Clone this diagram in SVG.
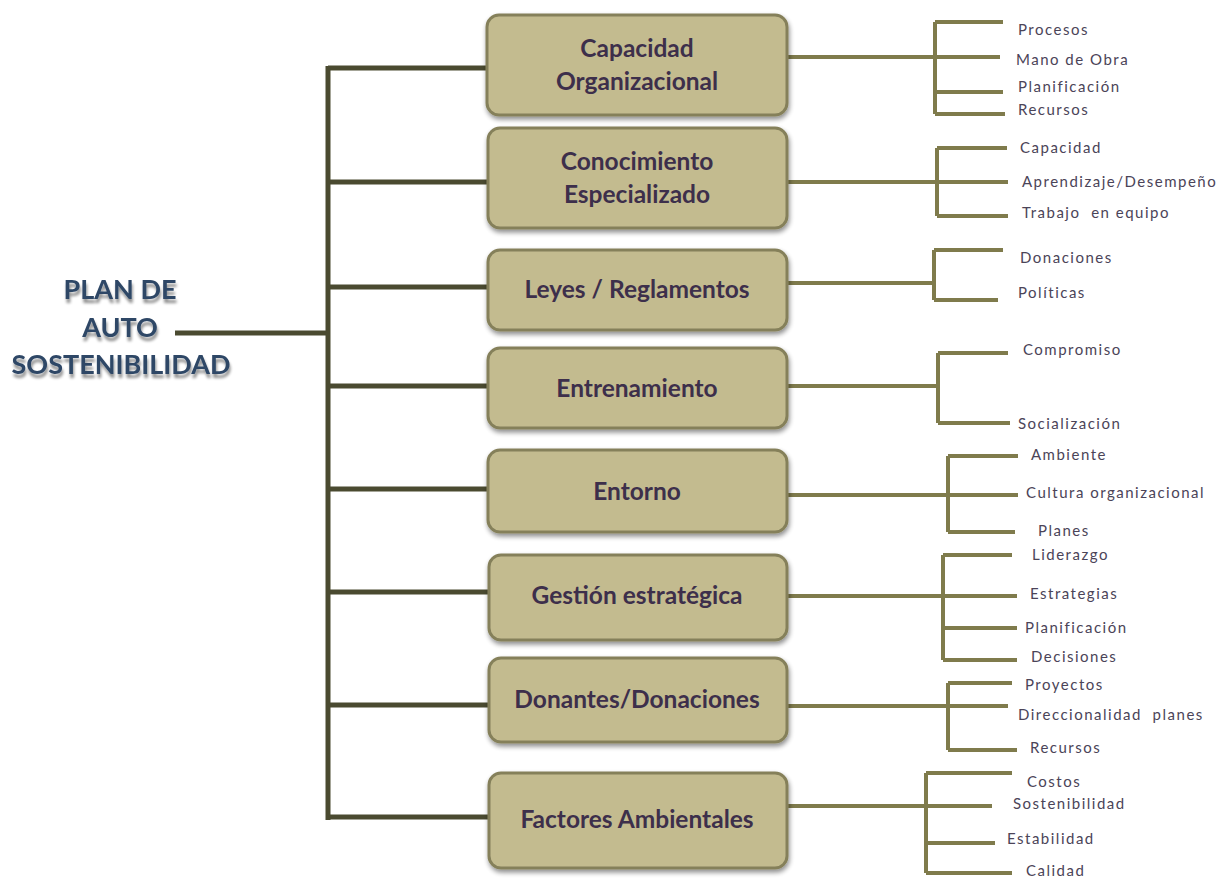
<svg xmlns="http://www.w3.org/2000/svg" width="1228" height="879" viewBox="0 0 1228 879">
<defs>
<filter id="sh" x="-10%" y="-20%" width="120%" height="150%">
<feGaussianBlur in="SourceAlpha" stdDeviation="2.5"/>
<feOffset dx="1" dy="3" result="b"/>
<feComponentTransfer><feFuncA type="linear" slope="0.45"/></feComponentTransfer>
<feMerge><feMergeNode/><feMergeNode in="SourceGraphic"/></feMerge>
</filter>
<filter id="tsh" x="-10%" y="-30%" width="120%" height="180%">
<feGaussianBlur in="SourceAlpha" stdDeviation="1.5"/>
<feOffset dx="1" dy="4"/>
<feComponentTransfer><feFuncA type="linear" slope="0.45"/></feComponentTransfer>
<feMerge><feMergeNode/><feMergeNode in="SourceGraphic"/></feMerge>
</filter>
</defs>
<style>
.box{fill:#c3bb8f;stroke:#85805a;stroke-width:3;filter:url(#sh)}
.bt{font-family:Lato,"Liberation Sans",sans-serif;font-weight:bold;font-size:24.5px;fill:#3d2f4b;text-anchor:middle}
.sub{font-family:Lato,"Liberation Sans",sans-serif;font-size:15px;fill:#4b4458;letter-spacing:1.5px;white-space:pre}
.trunk{stroke:#4a4a30;stroke-width:5;fill:none}
.br{stroke:#7f7b4c;stroke-width:4;fill:none}
.title{font-family:Lato,"Liberation Sans",sans-serif;font-weight:bold;font-size:27px;fill:#2e4766;text-anchor:middle;filter:url(#tsh)}
</style>
<rect width="1228" height="879" fill="#ffffff"/>

<g id="connectors">
<path class="trunk" d="M175 333H328M328 66V820M328 68H490M328 182H490M328 287H490M328 386H490M328 489H490M328 592H490M328 705H490M328 817H490"/>
<path class="br" d="M787 57H1000M935 22V114M935 22H1003M935 92H1003M935 114H1005"/>
<path class="br" d="M787 182H1008M937 148V216M937 148H1007M937 216H1008"/>
<path class="br" d="M787 283H935M934 250V300M934 250H1003M934 300H998"/>
<path class="br" d="M787 386H938M938 353V423M938 353H1008M938 423H1010"/>
<path class="br" d="M787 495H1018M948 456V532M948 456H1018M948 532H1015"/>
<path class="br" d="M787 596H1017M943 555V660M943 555H1012M943 628H1017M943 660H1017"/>
<path class="br" d="M787 706H1008M948 683V750M948 683H1012M948 750H1017"/>
<path class="br" d="M787 806H992M926 773V873M926 773H1012M926 843H995M926 873H1012"/>
</g>

<g id="root">
<text class="title" x="120" y="299">PLAN DE</text>
<text class="title" x="120" y="337">AUTO</text>
<text class="title" x="121" y="374">SOSTENIBILIDAD</text>
</g>

<g id="n1"><rect class="box" x="487" y="15" width="300" height="100" rx="12"/>
<text class="bt" x="637" y="57">Capacidad</text><text class="bt" x="637" y="90">Organizacional</text></g>
<g id="n2"><rect class="box" x="488" y="128" width="299" height="100" rx="12"/>
<text class="bt" x="637" y="170">Conocimiento</text><text class="bt" x="637" y="203">Especializado</text></g>
<g id="n3"><rect class="box" x="488" y="250" width="299" height="80" rx="12"/>
<text class="bt" x="637" y="298">Leyes / Reglamentos</text></g>
<g id="n4"><rect class="box" x="488" y="348" width="299" height="80" rx="12"/>
<text class="bt" x="637" y="397">Entrenamiento</text></g>
<g id="n5"><rect class="box" x="488" y="450" width="299" height="82" rx="12"/>
<text class="bt" x="637" y="500">Entorno</text></g>
<g id="n6"><rect class="box" x="489" y="555" width="298" height="85" rx="12"/>
<text class="bt" x="637" y="604">Gestión estratégica</text></g>
<g id="n7"><rect class="box" x="489" y="658" width="298" height="84" rx="12"/>
<text class="bt" x="637" y="708">Donantes/Donaciones</text></g>
<g id="n8"><rect class="box" x="489" y="773" width="298" height="95" rx="12"/>
<text class="bt" x="637" y="828">Factores Ambientales</text></g>

<g id="leaves">
<text class="sub" x="1018" y="35">Procesos</text>
<text class="sub" x="1016" y="65">Mano de Obra</text>
<text class="sub" x="1018" y="92">Planificación</text>
<text class="sub" x="1018" y="115">Recursos</text>
<text class="sub" x="1020" y="153">Capacidad</text>
<text class="sub" x="1022" y="187">Aprendizaje/Desempeño</text>
<text class="sub" x="1022" y="218">Trabajo  en equipo</text>
<text class="sub" x="1020" y="263">Donaciones</text>
<text class="sub" x="1018" y="298">Políticas</text>
<text class="sub" x="1023" y="355">Compromiso</text>
<text class="sub" x="1018" y="429">Socialización</text>
<text class="sub" x="1031" y="460">Ambiente</text>
<text class="sub" x="1026" y="498">Cultura organizacional</text>
<text class="sub" x="1038" y="536">Planes</text>
<text class="sub" x="1032" y="560">Liderazgo</text>
<text class="sub" x="1030" y="599">Estrategias</text>
<text class="sub" x="1025" y="633">Planificación</text>
<text class="sub" x="1031" y="662">Decisiones</text>
<text class="sub" x="1025" y="690">Proyectos</text>
<text class="sub" x="1018" y="720">Direccionalidad  planes</text>
<text class="sub" x="1030" y="753">Recursos</text>
<text class="sub" x="1027" y="787">Costos</text>
<text class="sub" x="1013" y="809">Sostenibilidad</text>
<text class="sub" x="1007" y="844">Estabilidad</text>
<text class="sub" x="1026" y="876">Calidad</text>
</g>
</svg>
